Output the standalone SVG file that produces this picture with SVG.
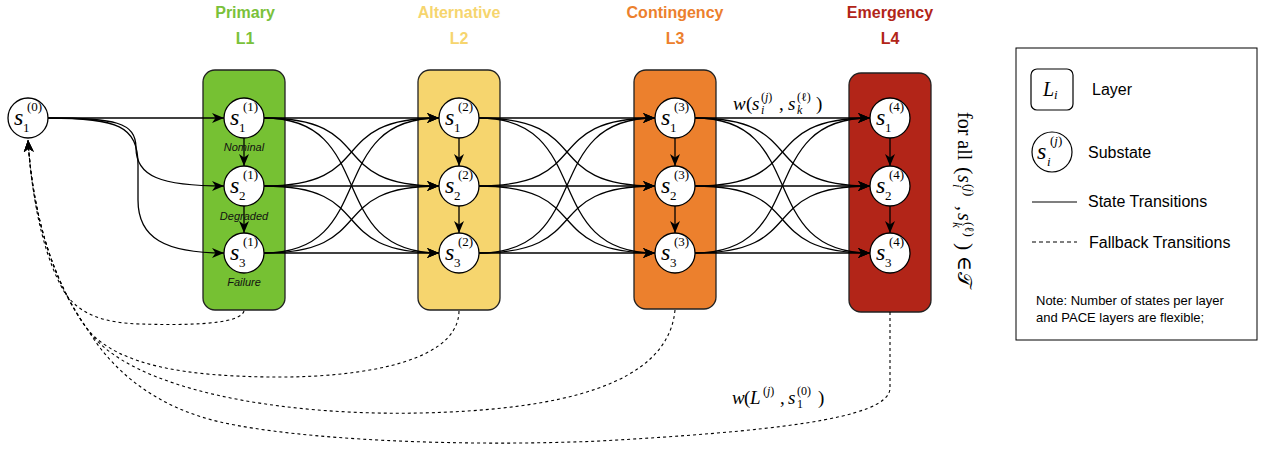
<svg xmlns="http://www.w3.org/2000/svg" width="1266" height="452" viewBox="0 0 1266 452">
<style>
.box{stroke:#222;stroke-width:1.3}
.nd circle{fill:#fff;stroke:#000;stroke-width:1.3}
.e{fill:none;stroke:#000;stroke-width:1.3;marker-end:url(#arr)}
.fb{fill:none;stroke:#000;stroke-width:1.1;stroke-dasharray:3 3;marker-end:url(#arr)}
.m{font-family:"Liberation Serif","DejaVu Serif",serif;font-style:italic;font-size:24px;fill:#000}
.sc{font-family:"Liberation Serif","DejaVu Serif",serif;font-size:13px;fill:#000}
.sci{font-family:"Liberation Serif","DejaVu Serif",serif;font-style:italic;font-size:13px;fill:#000}
.up{font-family:"Liberation Serif","DejaVu Serif",serif;font-size:20px;fill:#000}
.title{font-family:"Liberation Sans",Arial,sans-serif;font-weight:bold;font-size:16px;text-anchor:middle}
.lab{font-family:"Liberation Sans",Arial,sans-serif;font-style:italic;font-size:11px;text-anchor:middle;fill:#111}
.leg{font-family:"Liberation Sans",Arial,sans-serif;font-size:16px;fill:#000}
.note{font-family:"Liberation Sans",Arial,sans-serif;font-size:13px;fill:#000}
</style>
<defs>
<marker id="arr" markerWidth="13" markerHeight="11" refX="12" refY="5.5" orient="auto" markerUnits="userSpaceOnUse">
<path d="M0,0.5 L12,5.5 L0,10.5 L3.5,5.5 z" fill="#000" stroke="none"/>
</marker>
</defs>

<!-- titles -->
<g id="titles">
<text class="title" x="245" y="18" fill="#7AC13A">Primary</text>
<text class="title" x="245" y="44" fill="#7AC13A">L1</text>
<text class="title" x="459" y="18" fill="#F6D56E">Alternative</text>
<text class="title" x="459" y="44" fill="#F6D56E">L2</text>
<text class="title" x="675" y="18" fill="#EC802D">Contingency</text>
<text class="title" x="675" y="44" fill="#EC802D">L3</text>
<text class="title" x="890" y="18" fill="#B22518">Emergency</text>
<text class="title" x="890" y="44" fill="#B22518">L4</text>
</g>

<!-- layers -->
<g id="layer1"><rect class="box" x="203" y="70" width="82" height="240" rx="12" fill="#76C133"/></g>
<g id="layer2"><rect class="box" x="418" y="70" width="82" height="240" rx="12" fill="#F6D56E"/></g>
<g id="layer3"><rect class="box" x="634" y="70" width="82" height="239" rx="12" fill="#EC802D"/></g>
<g id="layer4"><rect class="box" x="849" y="73" width="82" height="239" rx="12" fill="#B22518"/></g>

<!-- connectors -->
<g id="connectors">
<!-- s0 to L1 -->
<path class="e" d="M48,118 L224,118"/>
<path class="e" d="M48,118 C115,118 136,122 136,148 C136,176 160,186 224,186"/>
<path class="e" d="M48,118 C118,118 138,126 138,165 L138,200 C138,238 165,253 224,253"/>
<!-- gap 1 -->
<path class="e" d="M264,118 L439,118"/>
<path class="e" d="M264,118 C379.5,118 323.5,186 439,186"/>
<path class="e" d="M264,118 C379.5,118 323.5,253 439,253"/>
<path class="e" d="M264,186 C379.5,186 323.5,118 439,118"/>
<path class="e" d="M264,186 L439,186"/>
<path class="e" d="M264,186 C379.5,186 323.5,253 439,253"/>
<path class="e" d="M264,253 C379.5,253 323.5,118 439,118"/>
<path class="e" d="M264,253 C379.5,253 323.5,186 439,186"/>
<path class="e" d="M264,253 L439,253"/>
<!-- gap 2 -->
<path class="e" d="M479,118 L655,118"/>
<path class="e" d="M479,118 C595,118 539,186 655,186"/>
<path class="e" d="M479,118 C595,118 539,253 655,253"/>
<path class="e" d="M479,186 C595,186 539,118 655,118"/>
<path class="e" d="M479,186 L655,186"/>
<path class="e" d="M479,186 C595,186 539,253 655,253"/>
<path class="e" d="M479,253 C595,253 539,118 655,118"/>
<path class="e" d="M479,253 C595,253 539,186 655,186"/>
<path class="e" d="M479,253 L655,253"/>
<!-- gap 3 -->
<path class="e" d="M695,118 L870,118"/>
<path class="e" d="M695,118 C810.5,118 754.5,186 870,186"/>
<path class="e" d="M695,118 C810.5,118 754.5,253 870,253"/>
<path class="e" d="M695,186 C810.5,186 754.5,118 870,118"/>
<path class="e" d="M695,186 L870,186"/>
<path class="e" d="M695,186 C810.5,186 754.5,253 870,253"/>
<path class="e" d="M695,253 C810.5,253 754.5,118 870,118"/>
<path class="e" d="M695,253 C810.5,253 754.5,186 870,186"/>
<path class="e" d="M695,253 L870,253"/>
<!-- vertical within layers -->
<path class="e" d="M244,138 L244,166"/>
<path class="e" d="M244,206 L244,233"/>
<path class="e" d="M459,138 L459,166"/>
<path class="e" d="M459,206 L459,233"/>
<path class="e" d="M675,138 L675,166"/>
<path class="e" d="M675,206 L675,233"/>
<path class="e" d="M890,138 L890,166"/>
<path class="e" d="M890,206 L890,233"/>
<!-- fallback -->
<path class="fb" d="M244,311 C240,326 175,325 140,324 C105,323 80,315 65,293 C48,265 33,215 28,140"/>
<path class="fb" d="M459,311 C458,368 340,378 270,377 C190,376 120,367 88,330 C55,285 33,220 28,140"/>
<path class="fb" d="M675,310 C668,385 560,410 420,413 C280,416 130,390 88,330 C55,285 33,220 28,140"/>
<path class="fb" d="M890,312 L890,388 C890,420 760,432 600,441 C460,447 300,440 220,422 C160,408 115,375 88,330 C55,285 33,220 28,140"/>
</g>

<!-- nodes -->
<g id="s1_0" class="nd"><circle cx="28" cy="118" r="20"/><text class="m" x="14" y="125">s</text><text class="sc" x="27" y="111">(0)</text><text class="sc" x="23" y="132">1</text></g>

<g id="s1_1" class="nd"><circle cx="244" cy="118" r="20"/><text class="m" x="230" y="125">s</text><text class="sc" x="243" y="111">(1)</text><text class="sc" x="239" y="132">1</text></g>
<g id="s2_1" class="nd"><circle cx="244" cy="186" r="20"/><text class="m" x="230" y="193">s</text><text class="sc" x="243" y="179">(1)</text><text class="sc" x="239" y="200">2</text></g>
<g id="s3_1" class="nd"><circle cx="244" cy="253" r="20"/><text class="m" x="230" y="260">s</text><text class="sc" x="243" y="246">(1)</text><text class="sc" x="239" y="267">3</text></g>

<g id="s1_2" class="nd"><circle cx="459" cy="118" r="20"/><text class="m" x="445" y="125">s</text><text class="sc" x="458" y="111">(2)</text><text class="sc" x="454" y="132">1</text></g>
<g id="s2_2" class="nd"><circle cx="459" cy="186" r="20"/><text class="m" x="445" y="193">s</text><text class="sc" x="458" y="179">(2)</text><text class="sc" x="454" y="200">2</text></g>
<g id="s3_2" class="nd"><circle cx="459" cy="253" r="20"/><text class="m" x="445" y="260">s</text><text class="sc" x="458" y="246">(2)</text><text class="sc" x="454" y="267">3</text></g>

<g id="s1_3" class="nd"><circle cx="675" cy="118" r="20"/><text class="m" x="661" y="125">s</text><text class="sc" x="674" y="111">(3)</text><text class="sc" x="670" y="132">1</text></g>
<g id="s2_3" class="nd"><circle cx="675" cy="186" r="20"/><text class="m" x="661" y="193">s</text><text class="sc" x="674" y="179">(3)</text><text class="sc" x="670" y="200">2</text></g>
<g id="s3_3" class="nd"><circle cx="675" cy="253" r="20"/><text class="m" x="661" y="260">s</text><text class="sc" x="674" y="246">(3)</text><text class="sc" x="670" y="267">3</text></g>

<g id="s1_4" class="nd"><circle cx="890" cy="118" r="20"/><text class="m" x="876" y="125">s</text><text class="sc" x="889" y="111">(4)</text><text class="sc" x="885" y="132">1</text></g>
<g id="s2_4" class="nd"><circle cx="890" cy="186" r="20"/><text class="m" x="876" y="193">s</text><text class="sc" x="889" y="179">(4)</text><text class="sc" x="885" y="200">2</text></g>
<g id="s3_4" class="nd"><circle cx="890" cy="253" r="20"/><text class="m" x="876" y="260">s</text><text class="sc" x="889" y="246">(4)</text><text class="sc" x="885" y="267">3</text></g>

<!-- state labels -->
<g id="state-labels">
<text class="lab" x="244" y="151">Nominal</text>
<text class="lab" x="244" y="220">Degraded</text>
<text class="lab" x="244" y="286">Failure</text>
</g>

<!-- edge weight label -->
<g id="w-label">
<text class="m" x="733" y="110" style="font-size:19px">w</text>
<text class="up" x="746" y="110" style="font-size:19px">(</text>
<text class="m" x="752" y="110" style="font-size:19px">s</text>
<text class="sc" x="761" y="101" style="font-size:12px">(<tspan font-style="italic">j</tspan>)</text>
<text class="sci" x="761" y="114" style="font-size:12px">i</text>
<text class="up" x="779" y="110" style="font-size:19px">,</text>
<text class="m" x="788" y="110" style="font-size:19px">s</text>
<text class="sc" x="797" y="101" style="font-size:12px">(ℓ)</text>
<text class="sci" x="797" y="114" style="font-size:12px">k</text>
<text class="up" x="816" y="110" style="font-size:19px">)</text>
</g>

<!-- fallback weight label -->
<g id="fb-label">
<text class="m" x="732" y="404" style="font-size:19px">w</text>
<text class="up" x="744" y="404" style="font-size:19px">(</text>
<text class="m" x="750" y="404" style="font-size:19px">L</text>
<text class="sc" x="763" y="395" style="font-size:12px">(<tspan font-style="italic">j</tspan>)</text>
<text class="up" x="780" y="404" style="font-size:19px">,</text>
<text class="m" x="788" y="404" style="font-size:19px">s</text>
<text class="sc" x="797" y="395" style="font-size:12px">(0)</text>
<text class="sc" x="797" y="408" style="font-size:12px">1</text>
<text class="up" x="818" y="404" style="font-size:19px">)</text>
</g>

<!-- rotated constraint -->
<g id="constraint" transform="translate(958,112) rotate(90)">
<text class="up" x="0" y="0">for all</text>
<text class="up" x="55" y="0" style="font-size:22px">(</text>
<text class="m" x="63" y="0" style="font-size:20px">s</text>
<text class="sc" x="72" y="-7">(<tspan font-style="italic">j</tspan>)</text>
<text class="sci" x="72" y="5">i</text>
<text class="up" x="94" y="0">,</text>
<text class="m" x="101" y="0" style="font-size:20px">s</text>
<text class="sc" x="110" y="-7">(ℓ)</text>
<text class="sci" x="110" y="5">k</text>
<text class="up" x="131" y="0" style="font-size:22px">)</text>
<text class="up" x="144" y="0">∈</text>
<text class="up" x="160" y="0">𝒯</text>
</g>

<!-- legend -->
<g id="legend">
<rect x="1016" y="48" width="241" height="292" fill="#fff" stroke="#000" stroke-width="1"/>
<rect x="1031" y="69" width="42" height="41" rx="6" fill="#fff" stroke="#000" stroke-width="1.2"/>
<text class="m" x="1043" y="96" style="font-size:20px">L</text>
<text class="sci" x="1054" y="99">i</text>
<text class="leg" x="1092" y="95">Layer</text>
<circle cx="1052" cy="152" r="20" fill="#fff" stroke="#000" stroke-width="1.2"/>
<text class="m" x="1037" y="159">s</text>
<text class="sc" x="1050" y="145">(<tspan font-style="italic">j</tspan>)</text>
<text class="sci" x="1047" y="166">i</text>
<text class="leg" x="1088" y="158">Substate</text>
<line x1="1032" y1="202" x2="1077" y2="202" stroke="#000" stroke-width="1.2"/>
<text class="leg" x="1088" y="207">State Transitions</text>
<line x1="1032" y1="242" x2="1077" y2="242" stroke="#000" stroke-width="1.2" stroke-dasharray="4 3"/>
<text class="leg" x="1089" y="248">Fallback Transitions</text>
<text class="note" x="1036" y="305">Note: Number of states per layer</text>
<text class="note" x="1036" y="322">and PACE layers are flexible;</text>
</g>
</svg>
